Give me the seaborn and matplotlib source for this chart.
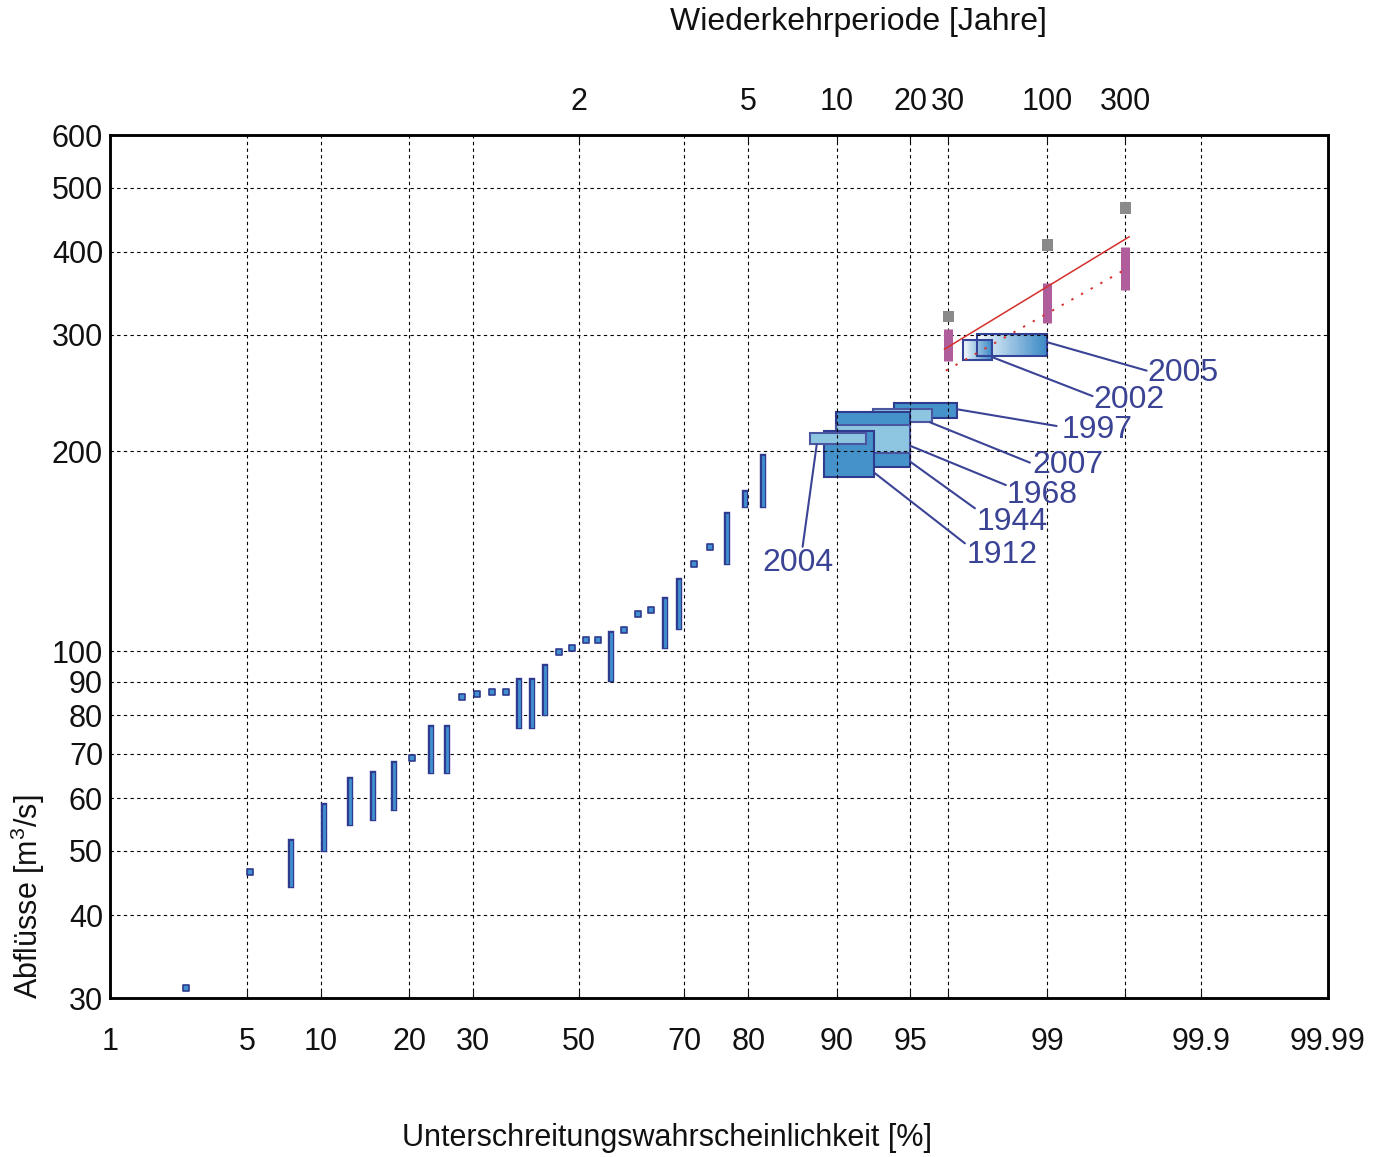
import numpy as np
import matplotlib
matplotlib.use("Agg")
import matplotlib.pyplot as plt
import seaborn as sns
import pandas as pd
from matplotlib.patches import Rectangle
from matplotlib.colors import to_rgb
from matplotlib.ticker import FixedLocator, FixedFormatter, NullLocator
from statistics import NormalDist

# ---------------- data ----------------
# small observed events: plotting position [%], discharge range [m3/s]
small_p = [2.56, 5.14, 7.7, 10.3, 12.85, 15.4, 17.9, 20.4, 23.1, 25.7,
           28.2, 30.7, 33.4, 36.0, 38.4, 40.9, 43.4, 46.1, 48.7, 51.4,
           53.8, 56.35, 58.9, 61.5, 64.05, 66.6, 69.1, 71.7, 74.2, 76.95,
           79.5, 82.0]
small_lo = [31.1, 46.4, 44.4, 50.3, 55.1, 56.0, 58.0, 68.9, 66.0, 66.0,
            85.3, 86.1, 86.8, 86.9, 77.1, 77.1, 80.8, 99.6, 101.2, 103.9,
            103.9, 90.7, 107.8, 113.8, 115.4, 101.9, 108.7, 135.2, 143.4, 136.2,
            166.1, 166.1]
small_hi = [31.1, 46.4, 51.6, 58.4, 64.0, 65.3, 67.7, 68.9, 76.6, 76.6,
            85.3, 86.1, 86.8, 86.9, 90.2, 90.2, 94.7, 99.6, 101.2, 103.9,
            103.9, 106.2, 107.8, 113.8, 115.4, 119.4, 127.6, 135.2, 143.4, 160.5,
            173.2, 196.3]

# large historic floods (boxes), drawing order back to front
flood_years = ["1997", "2007", "1944", "1968", "1912", "2004"]
flood_p0 = [94.12, 92.81, 89.91, 89.91, 88.85, 87.44]
flood_p1 = [96.97, 96.01, 95.0, 95.0, 92.88, 92.30]
flood_lo = [224.5, 221.4, 189.3, 199.2, 183.3, 205.1]
flood_hi = [236.5, 231.8, 229.1, 219.3, 215.0, 213.5]
flood_shade = ["dark", "light", "dark", "light", "dark", "light"]

# recent floods with gradient fill
grad_years = ["2005", "2002"]
grad_p0 = [97.60, 97.18]
grad_p1 = [99.0, 98.0]
grad_lo = [278.9, 274.8]
grad_hi = [300.4, 294.5]

# design floods at return periods
design_T = [30, 100, 300]
design_lo = [273.8, 312.7, 350.8]
design_hi = [306.0, 358.7, 406.9]
design_max = [319.4, 409.6, 465.7]

# fitted lines
fit_p = [96.52, 99.686]
fit_q = [285.2, 421.5]
fit2_p = [96.58, 99.686]
fit2_q = [264.8, 379.2]

# labels with leader lines
label_years = ["2005", "2002", "1997", "2007", "1968", "1944", "1912", "2004"]
lead_p0 = [99.0, 98.0, 96.97, 95.94, 95.0, 95.0, 92.88, 88.12]
lead_q0 = [292.2, 277.4, 231.6, 221.3, 204.0, 193.1, 185.8, 204.5]
lead_p1 = [99.759, 99.462, 99.115, 98.744, 98.30, 97.538, 97.237, 86.68]
lead_q1 = [264.8, 242.4, 218.5, 192.4, 178.0, 164.2, 145.4, 143.7]
text_p = [99.76, 99.47, 99.173, 98.776, 98.31, 97.586, 97.29, 86.23]
text_q = [255.5, 232.9, 209.8, 185.4, 167.1, 152.3, 135.9, 132.1]
text_ha = ["left", "left", "left", "left", "left", "left", "left", "center"]

x_ticks = [1, 5, 10, 20, 30, 50, 70, 80, 90, 95, 99, 99.9, 99.99]
x_ticklabels = ["1", "5", "10", "20", "30", "50", "70", "80", "90", "95", "99", "99.9", "99.99"]
top_T = [2, 5, 10, 20, 30, 100, 300]
top_labels = ["2", "5", "10", "20", "30", "100", "300"]
y_ticks = [30, 40, 50, 60, 70, 80, 90, 100, 200, 300, 400, 500, 600]

# ---------------- style ----------------
sns.set_theme(style="white")
plt.rcParams["font.family"] = ["Liberation Sans", "DejaVu Sans"]
plt.rcParams["mathtext.default"] = "regular"
FS = 22

_nd = NormalDist()
_ppf = np.vectorize(_nd.inv_cdf, otypes=[float])
_cdf = np.vectorize(_nd.cdf, otypes=[float])


def fwd(p):
    p = np.asarray(p, dtype=float)
    q = np.clip(p / 100.0, 1e-9, 1 - 1e-9)
    q = np.where(np.isfinite(q), q, 0.5)
    return _ppf(q)


def inv(z):
    z = np.asarray(z, dtype=float)
    return _cdf(z) * 100.0


W, H = 1389, 1157
fig = plt.figure(figsize=(W / 100, H / 100), dpi=100)
ax = fig.add_axes([110 / W, 1 - 998 / H, (1328 - 110) / W, (998 - 135) / H])
ax.set_xscale("function", functions=(fwd, inv))
ax.set_yscale("log")
ax.set_xlim(1, 99.99)
ax.set_ylim(30, 600)

navy = "#2f3b8f"
blue = "#4190d0"
dark_fill = "#4592cb"
light_fill = "#8ec5e1"
label_col = "#3b4395"

# small events
sp = np.array(small_p)
slo = np.array(small_lo)
shi = np.array(small_hi)
isbar = shi > slo
lc1 = ax.vlines(sp[isbar], slo[isbar], shi[isbar], colors=navy, linewidth=4.6, zorder=3)
lc1.set_capstyle("projecting")
lc2 = ax.vlines(sp[isbar], slo[isbar], shi[isbar], colors=blue, linewidth=2.0, zorder=3.1)
lc2.set_capstyle("projecting")
ax.scatter(sp[~isbar], slo[~isbar], marker="s", s=18, facecolor=blue,
           edgecolor=navy, linewidths=1.2, zorder=3.2)

# big historic floods
for p0, p1, lo, hi, sh in zip(flood_p0, flood_p1, flood_lo, flood_hi, flood_shade):
    ax.add_patch(Rectangle((p0, lo), p1 - p0, hi - lo,
                           facecolor=dark_fill if sh == "dark" else light_fill,
                           edgecolor=navy if sh == "dark" else "#4a56a0",
                           linewidth=1.5, zorder=2))

# gradient boxes (2005 drawn first, 2002 on top)
c_left = np.array(to_rgb("#f4f9fd"))
c_right = np.array(to_rgb("#3a89c6"))
for p0, p1, lo, hi in zip(grad_p0, grad_p1, grad_lo, grad_hi):
    zs = np.linspace(fwd(p0), fwd(p1), 41)
    edges = inv(zs)
    for i in range(40):
        t = i / 39
        ax.add_patch(Rectangle((edges[i], lo), edges[i + 1] - edges[i], hi - lo,
                               facecolor=c_left * (1 - t) + c_right * t,
                               edgecolor="none", zorder=2))
    ax.add_patch(Rectangle((p0, lo), p1 - p0, hi - lo, facecolor="none",
                           edgecolor="#34449a", linewidth=1.5, zorder=2.05))

# design floods
design_p = [100 * (1 - 1 / t) for t in design_T]
ax.vlines(design_p, design_lo, design_hi, colors="#b05d9c", linewidth=6.5, zorder=3)
gray_df = pd.DataFrame({"p": design_p, "q": design_max})
sns.scatterplot(data=gray_df, x="p", y="q", marker="s", s=64, color="#8a8a8a",
                edgecolor="none", ax=ax, zorder=3, legend=False)

# fitted lines
fit_df = pd.DataFrame({"p": fit_p, "q": fit_q})
fit2_df = pd.DataFrame({"p": fit2_p, "q": fit2_q})
sns.lineplot(data=fit_df, x="p", y="q", color="#d4302c", linewidth=1.1,
             estimator=None, sort=False, ax=ax, zorder=4)
sns.lineplot(data=fit2_df, x="p", y="q", color="#d4302c", linewidth=1.4,
             linestyle=(0, (1.2, 4.5)), estimator=None, sort=False, ax=ax, zorder=4)

# leader lines + labels
for yr, a0, b0, a1, b1, tp, tq, ha in zip(label_years, lead_p0, lead_q0, lead_p1,
                                          lead_q1, text_p, text_q, text_ha):
    ax.plot([a0, a1], [b0, b1], color=label_col, linewidth=1.5, zorder=4)
    ax.text(tp, tq, yr, color=label_col, fontsize=23, ha=ha, va="baseline", zorder=5)

# axes formatting
grid_ticks = sorted(x_ticks + [100 * (1 - 1 / 30), 100 * (1 - 1 / 300)])
grid_labels = []
for t in grid_ticks:
    grid_labels.append(x_ticklabels[x_ticks.index(t)] if t in x_ticks else "")
ax.xaxis.set_major_locator(FixedLocator(grid_ticks))
ax.xaxis.set_major_formatter(FixedFormatter(grid_labels))
ax.xaxis.set_minor_locator(NullLocator())
ax.yaxis.set_major_locator(FixedLocator(y_ticks))
ax.yaxis.set_major_formatter(FixedFormatter([str(v) for v in y_ticks]))
ax.yaxis.set_minor_locator(NullLocator())
ax.grid(True, color="black", linestyle=(0, (3, 3)), linewidth=0.8)
ax.set_axisbelow(False)
ax.tick_params(axis="x", direction="in", length=5, width=0.8, pad=21,
               labelsize=FS, colors="#111111")
ax.tick_params(axis="y", direction="in", length=6, width=0.8, pad=5,
               labelsize=FS, colors="#111111")
ax.set_xlabel("")
ax.set_ylabel("")
for s in ax.spines.values():
    s.set_visible(True)
    s.set_color("black")
    s.set_linewidth(1.8)

ax2 = ax.twiny()
ax2.set_xscale("function", functions=(fwd, inv))
ax2.set_xlim(ax.get_xlim())
ax2.xaxis.set_major_locator(FixedLocator([100 * (1 - 1 / t) for t in top_T]))
ax2.xaxis.set_major_formatter(FixedFormatter(top_labels))
ax2.xaxis.set_minor_locator(NullLocator())
ax2.tick_params(axis="x", direction="in", length=5, width=0.8, pad=13,
                labelsize=FS, colors="#111111")
ax2.grid(False)
for s in ax2.spines.values():
    s.set_linewidth(1.8)
    s.set_color("black")

fig.text(858 / W, 1 - 22 / H, "Wiederkehrperiode [Jahre]", ha="center", va="center",
         fontsize=23, color="#111111")
fig.text(667 / W, 1 - 1138 / H, "Unterschreitungswahrscheinlichkeit [%]", ha="center",
         va="center", fontsize=FS, color="#111111")
fig.text(28 / W, 1 - 897 / H, "Abflüsse [m$^3$/s]", ha="center", va="center",
         rotation=90, fontsize=FS, color="#111111")

fig.savefig("out.png", dpi=100, facecolor="white")
